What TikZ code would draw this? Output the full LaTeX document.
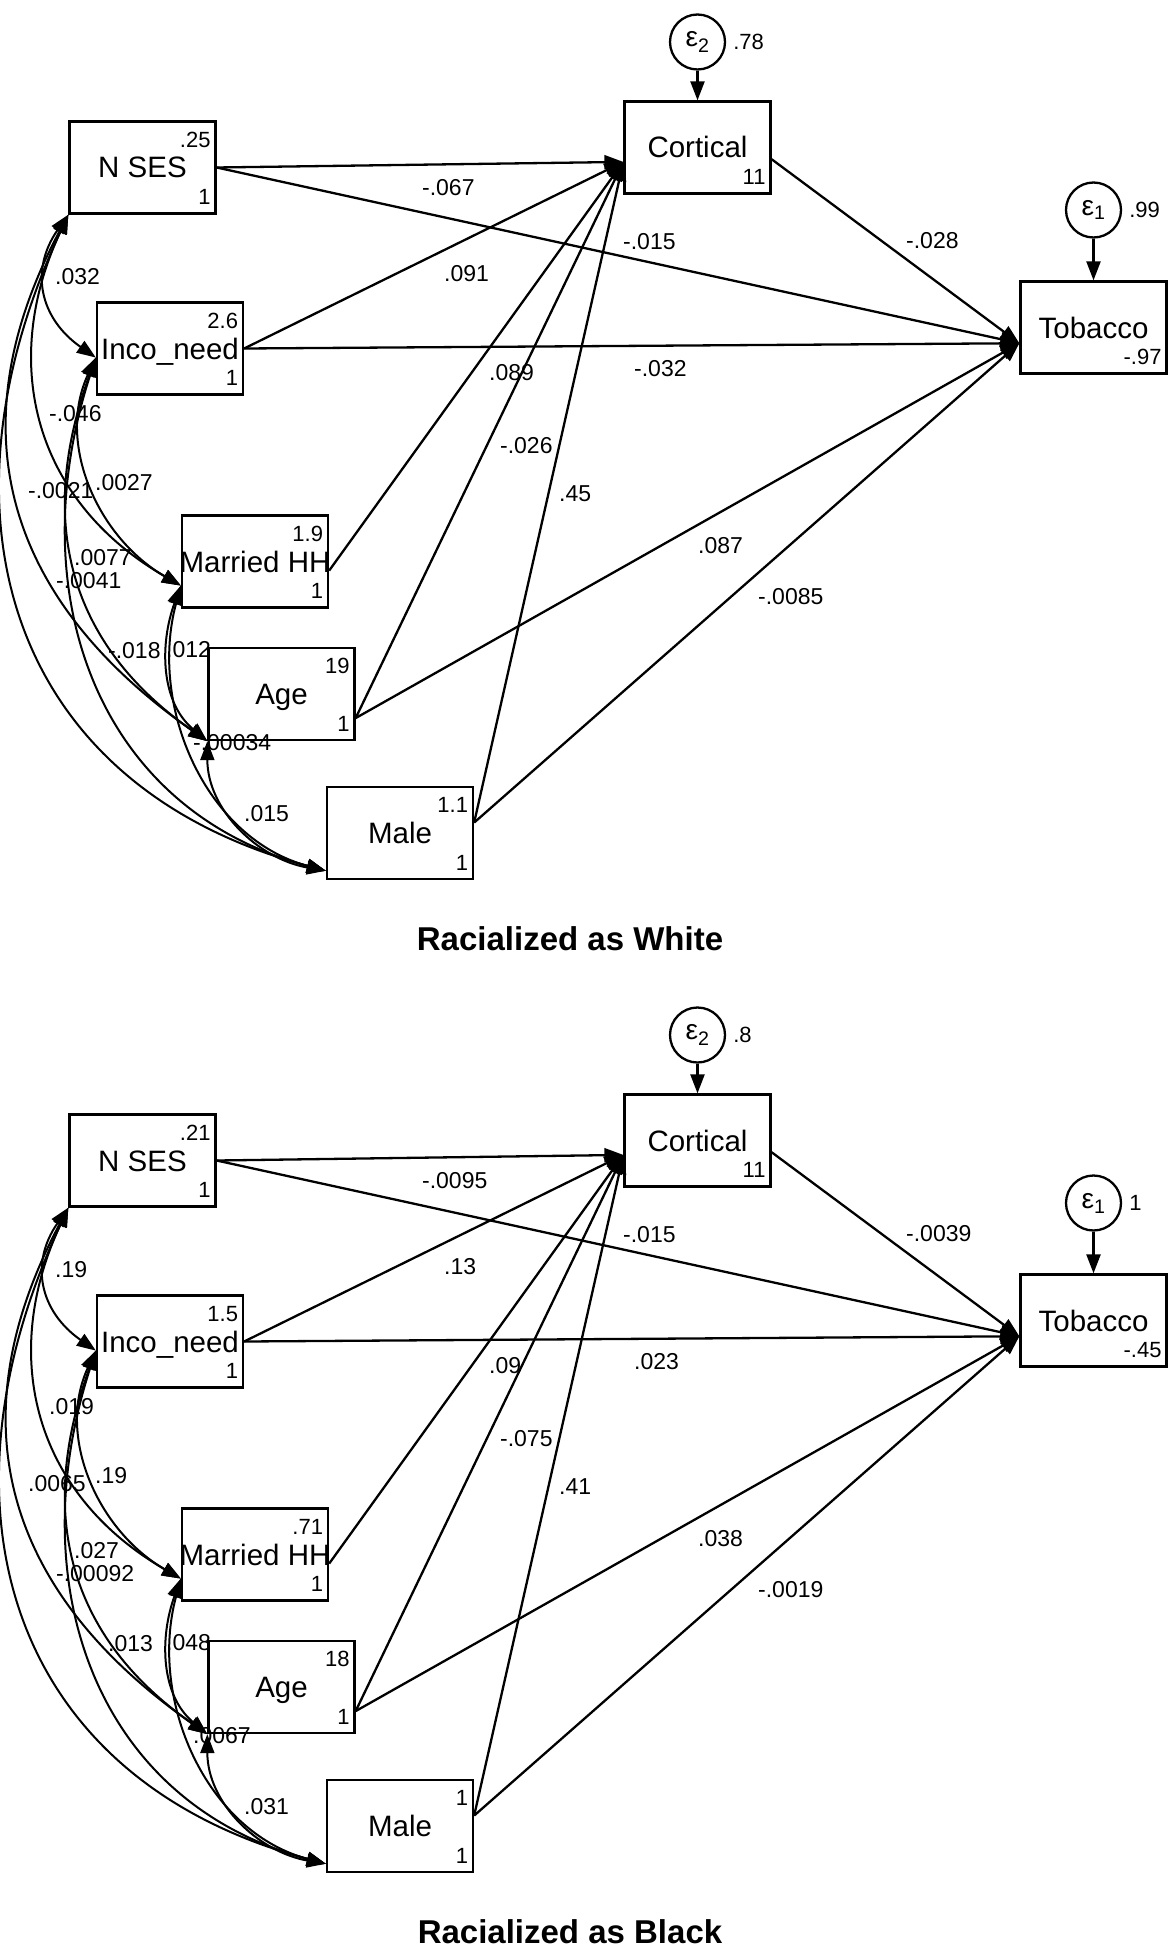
\documentclass[tikz,border=0pt]{standalone}
\usepackage{fontspec}
\setmainfont{Liberation Sans}
\usetikzlibrary{arrows.meta}
\tikzset{
  every picture/.style={line width=2.3pt, x=1pt, y=1pt},
  obs/.style={draw, rectangle, minimum width=146pt, minimum height=92pt, inner sep=0pt},
  err/.style={draw, circle, minimum size=55pt, inner sep=0pt, font=\fontsize{28}{28}\selectfont},
  vname/.style={font=\fontsize{29.5}{30}\selectfont, inner sep=0pt, text height=21pt, text depth=0pt},
  num/.style={font=\fontsize{22}{22}\selectfont, inner sep=0pt},
  coef/.style={font=\fontsize{23}{23}\selectfont, anchor=west, inner sep=0pt, text height=16.5pt, text depth=0pt},
  effect/.style={-{Triangle[length=19pt, width=14pt]}},
  cov/.style={{Triangle[length=19pt, width=14pt]}-{Triangle[length=19pt, width=14pt]}, line width=2pt},
  title/.style={font=\bfseries\fontsize{33}{33}\selectfont},
}
\begin{document}
\begin{tikzpicture}
  \useasboundingbox (0,0) rectangle (1172,-1950);
  % w = racialized as white (top), b = racialized as black (shifted down by 993)
  \foreach \p/\dy/\ttl in {w/0/White, b/993/Black}
    \node[title] (title\p) at (570,-939-\dy) {Racialized as \ttl};
  % exogenous variables: name/x/y/label/variance (white)/variance (black)
  \foreach \n/\x/\y/\lbl/\vw/\vb in {nses/142.5/167.5/N SES/.25/.21, inco/170/348.5/Inco\_need/2.6/1.5,
      married/255/561.5/Married HH/1.9/.71, age/281.5/694/Age/19/18, male/400/833/Male/1.1/1}
    \foreach \p/\dy/\val in {w/0/\vw, b/993/\vb} {
      \node[obs, label={[vname, name=t\n\p]center:\lbl}] (\n\p) at (\x,-\y-\dy) {};
      \node[num, anchor=base east] (v\n\p) at ([shift={(-5,-27)}]\n\p.north east) {\val};
      \node[num, anchor=base east] (m\n\p) at ([shift={(-5,10)}]\n\p.south east) {1};
    }
  % endogenous variables: name/x/y/label/intercept (white)/intercept (black)
  \foreach \n/\x/\y/\lbl/\mw/\mb in {cortical/697.5/147.5/Cortical/11/11, tobacco/1093.5/327.5/Tobacco/-.97/-.45}
    \foreach \p/\dy/\val in {w/0/\mw, b/993/\mb} {
      \node[obs, label={[vname, name=t\n\p]center:\lbl}] (\n\p) at (\x,-\y-\dy) {};
      \node[num, anchor=base east] (m\n\p) at ([shift={(-5,10.5)}]\n\p.south east) {\val};
    }
  % error terms: name/index/target/x/y/variance (white)/variance (black)
  \foreach \e/\idx/\dst/\x/\y/\vw/\vb in {etwo/2/cortical/697.5/42/.78/.8, eone/1/tobacco/1093.5/210/.99/1}
    \foreach \p/\dy/\val in {w/0/\vw, b/993/\vb} {
      \node[err] (\e\p) at (\x,-\y-\dy) {ε\textsubscript{\idx}};
      \node[num, anchor=west] (v\e\p) at ([xshift=6pt]\e\p.east) {\val};
      \draw[effect] (\e\p.south) -- (\dst\p.north);
    }
  % structural paths: from/anchor/to/anchor/label x/label y/coef (white)/coef (black)
  \foreach \src/\srca/\dst/\dsta/\lx/\ly/\cw/\cb in {
      nses/east/cortical/191/421/187/-.067/-.0095,
      nses/east/tobacco/192/622/241/-.015/-.015,
      inco/east/cortical/191/443/273/.091/.13,
      inco/east/tobacco/192/633/368/-.032/.023,
      married/-7/cortical/191/488/372/.089/.09,
      age/-18/cortical/191/499/445/-.026/-.075,
      male/8/cortical/191/558/493/.45/.41,
      age/-18/tobacco/192/697/545/.087/.038,
      male/8/tobacco/192/757/596/-.0085/-.0019,
      cortical/-9/tobacco/192/905/240/-.028/-.0039}
    \foreach \p/\dy/\val in {w/0/\cw, b/993/\cb} {
      \draw[effect] (\src\p.\srca) -- (\dst\p.\dsta);
      \node[coef] (\src\dst\p) at (\lx,-\ly-\dy) {\val};
    }
  % covariances: upper/anchor/lower/anchor/out/in/looseness/label x/label y/value (white)/value (black)
  \foreach \up/\upa/\lo/\loa/\aout/\ain/\lse/\lx/\ly/\cw/\cb in {
      nses/south west/inco/187/-125/145/1.2/54/276/.032/.19,
      nses/south west/married/198/-115/150/1.1/48/413/-.046/.019,
      nses/south west/age/south west/-118/145/1.15/27/490/-.0021/.0065,
      nses/south west/male/207/-115/165/1.2/73/557/.0077/.027,
      inco/187/married/198/-115/150/1/94/482/.0027/.19,
      inco/187/age/south west/-110/145/1.1/55/580/-.0041/-.00092,
      inco/187/male/207/-108/165/1.1/107/650/-.018/.013,
      married/198/age/south west/-110/140/1/165/649/.012/.048,
      married/198/male/207/-105/165/1/192/742/-.00034/.0067,
      age/south west/male/207/-90/170/1/243/813/.015/.031}
    \foreach \p/\dy/\val in {w/0/\cw, b/993/\cb} {
      \draw[cov] (\up\p.\upa) to[out=\aout, in=\ain, looseness=\lse] (\lo\p.\loa);
      \node[coef] (\up\lo\p) at (\lx,-\ly-\dy) {\val};
    }
\end{tikzpicture}
\end{document}
